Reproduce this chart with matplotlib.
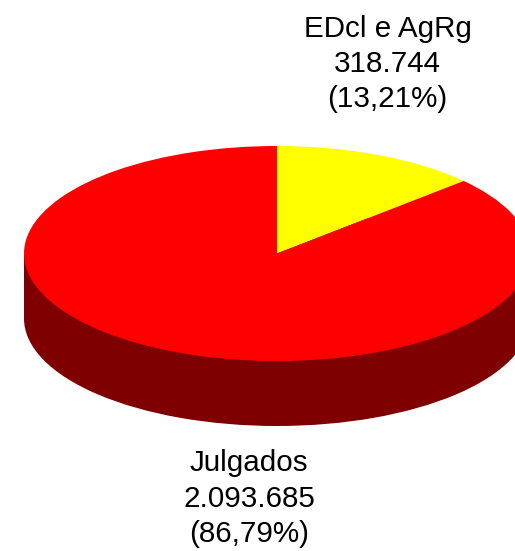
import matplotlib
matplotlib.use("Agg")
import matplotlib.pyplot as plt
from matplotlib.patches import Wedge, Rectangle
from matplotlib.transforms import Affine2D

categories = ["EDcl e AgRg", "Julgados"]
values = [318744, 2093685]
value_labels = ["318.744", "2.093.685"]
pct_labels = ["(13,21%)", "(86,79%)"]
top_colors = ["#FFFF00", "#FF0000"]
side_color = "#7F0000"

W, H = 515, 551
cx, cy, rx, ry, depth = 277, 253.5, 253, 107.5, 65

fig = plt.figure(figsize=(W / 100, H / 100), dpi=100)
ax = fig.add_axes([0, 0, 1, 1])
ax.set_xlim(0, W)
ax.set_ylim(H, 0)
ax.axis("off")

# y is inverted in data space, so flip it back for the unit-circle wedges
top = Affine2D().scale(rx, -ry).translate(cx, cy) + ax.transData
bottom = Affine2D().scale(rx, -ry).translate(cx, cy + depth) + ax.transData

ax.add_patch(Wedge((0, 0), 1, 0, 360, transform=bottom, fc=side_color, ec="none"))
ax.add_patch(Rectangle((cx - rx, cy), 2 * rx, depth, fc=side_color, ec="none"))

total = sum(values)
start = 90.0
for val, col in zip(values, top_colors):
    sweep = 360.0 * val / total
    ax.add_patch(Wedge((0, 0), 1, start - sweep, start, transform=top, fc=col, ec="none"))
    start -= sweep

fp = dict(family="Liberation Sans", fontsize=21.3, color="black", ha="center", va="baseline")
label_pos = [(387.5, (37, 72, 107)), (249, (471, 507, 542))]
for (x, ys), c, v, p in zip(label_pos, categories, value_labels, pct_labels):
    for y, s in zip(ys, (c, v, p)):
        ax.text(x, y, s, **fp)

fig.savefig("out.png", dpi=100)
